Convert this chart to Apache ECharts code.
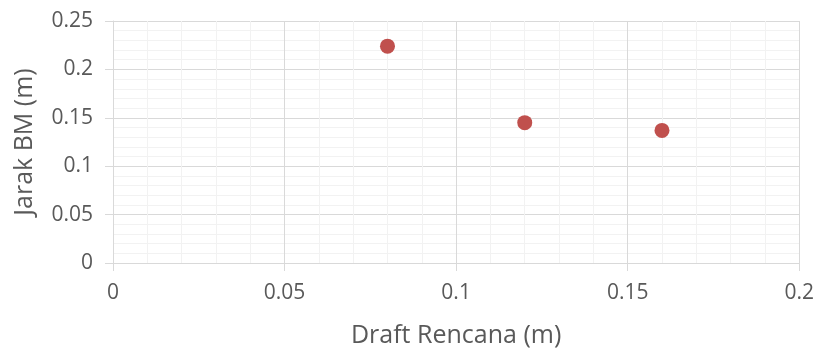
<!DOCTYPE html>
<html>
<head>
<meta charset="utf-8">
<script src="https://cdn.jsdelivr.net/npm/echarts@6/dist/echarts.min.js"></script>
<style>
  html, body { margin: 0; padding: 0; background: #ffffff; }
  #chart { width: 817px; height: 355px; }
</style>
</head>
<body>
<div id="chart"></div>
<script>
// Draft rencana (m) vs jarak BM (m)
const draftValues = [0.08, 0.12, 0.16];
const jarakBM = [0.224, 0.145, 0.137];
const xTitle = 'Draft Rencana (m)';
const yTitle = 'Jarak BM (m)';

const textColor = '#595959';
const fontFamily = '"Open Sans", "Noto Sans", sans-serif';

const points = draftValues.map((x, i) => [x, jarakBM[i]]);

const chart = echarts.init(document.getElementById('chart'));
chart.setOption({
  animation: false,
  backgroundColor: '#ffffff',
  grid: { left: 113, right: 15, top: 21, bottom: 92, containLabel: false },
  xAxis: {
    type: 'value', min: 0, max: 0.2, interval: 0.05,
    name: xTitle, nameLocation: 'middle', nameGap: 60,
    nameTextStyle: { color: textColor, fontSize: 25, fontFamily },
    axisLine: { show: true, lineStyle: { color: '#d9d9d9', width: 1 } },
    axisTick: { show: true, length: 8, lineStyle: { color: '#d9d9d9' } },
    axisLabel: { color: textColor, fontSize: 21, fontFamily, margin: 20,
      formatter: v => String(+v.toFixed(2)) },
    splitLine: { show: true, lineStyle: { color: '#d9d9d9', width: 1 } },
    minorTick: { show: false, splitNumber: 5 },
    minorSplitLine: { show: true, lineStyle: { color: '#f2f2f2', width: 1 } }
  },
  yAxis: {
    type: 'value', min: 0, max: 0.25, interval: 0.05,
    name: yTitle, nameLocation: 'middle', nameGap: 76, nameRotate: 90,
    nameTextStyle: { color: textColor, fontSize: 25, fontFamily },
    axisLine: { show: true, lineStyle: { color: '#d9d9d9', width: 1 } },
    axisTick: { show: true, length: 8, lineStyle: { color: '#d9d9d9' } },
    axisLabel: { color: textColor, fontSize: 21, fontFamily, margin: 20,
      formatter: v => String(+v.toFixed(2)) },
    splitLine: { show: true, lineStyle: { color: '#d9d9d9', width: 1 } },
    minorTick: { show: false, splitNumber: 5 },
    minorSplitLine: { show: true, lineStyle: { color: '#f2f2f2', width: 1 } }
  },
  series: [{
    type: 'scatter',
    data: points,
    symbol: 'circle',
    symbolSize: 15,
    itemStyle: { color: '#c0504d', opacity: 1 }
  }]
});
</script>
</body>
</html>
